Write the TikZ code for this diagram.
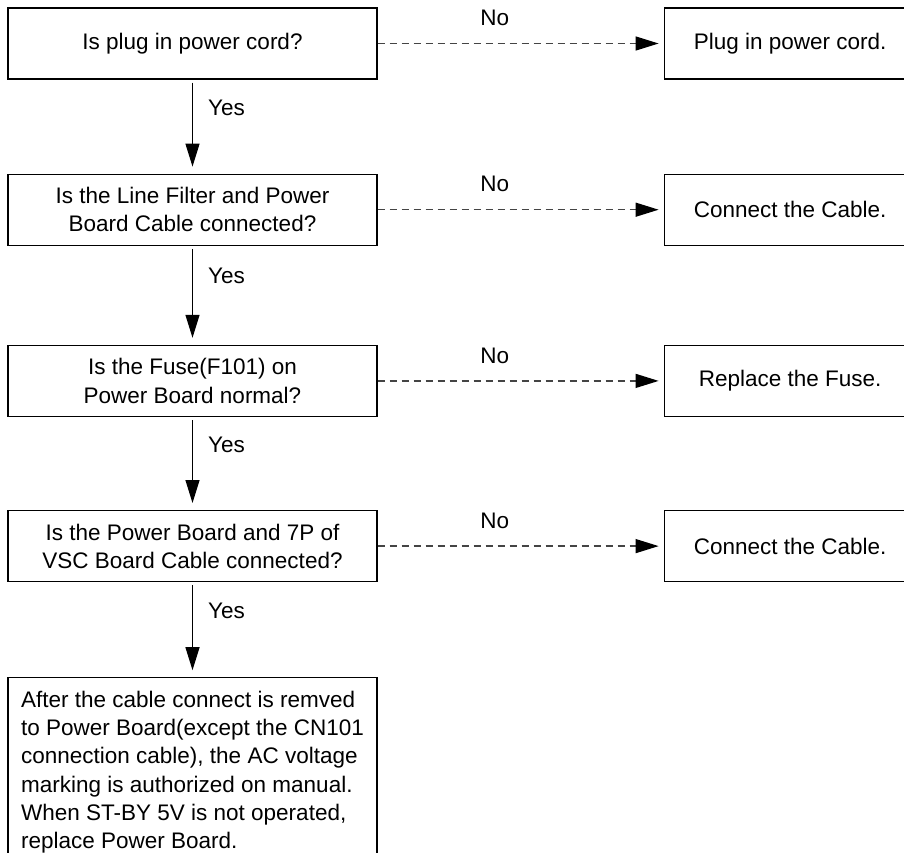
\documentclass[tikz,border=0pt]{standalone}
\usepackage{fontspec}
\setmainfont{Liberation Sans}
\usepackage{tikz}
\usetikzlibrary{arrows.meta,positioning}
\definecolor{dashgray}{HTML}{444444}

\begin{document}
\begin{tikzpicture}[
    x=1pt, y=1pt,
    node distance=94pt,
    >={Triangle[length=23pt,width=14pt]},
    font=\fontsize{22.5}{28.3}\selectfont,
    check/.style={
		rectangle,
		draw=black,
		line width=1.2pt,
		align=center,
		minimum width=369pt,
		minimum height=71pt,
		inner sep=0pt,
		fill=white
	},
	repair/.style={
		check,
		minimum width=252pt
	},
	answer/.style={
		inner sep=0pt
	},
	yesline/.style={->, line width=1.2pt, shorten <=3pt, shorten >=7pt},
	noline/.style={-{Triangle[length=23pt,width=14pt,color=black]}, draw=dashgray, line width=1.3pt, dash pattern=on 7pt off 5pt, shorten >=5pt}
  ]
  \useasboundingbox (0,0) rectangle (904,-852);

  % the questions on the left
  \node [check] (check1) at (192.5,-43.5) {Is plug in power cord?};
  \node [check, below=94pt of check1] (check2) {Is the Line Filter and Power\\Board Cable connected?};
  \node [check, below=99pt of check2] (check3) {Is the Fuse(F101) on\\Power Board normal?};
  \node [check, below=93pt of check3] (check4) {Is the Power Board and 7P of\\VSC Board Cable connected?};
  \node [check, below=95pt of check4, align=left, inner ysep=13pt] (check5)
 {%
  After the cable connect is remved\\
  to Power Board(except the CN101\\
  connection cable), the AC voltage\\
  marking is authorized on manual.\\
  When ST-BY 5V is not operated,\\
  replace Power Board.
 };

  % what to do on No
  \node [repair, right=286pt of check1] (repair1) {Plug in power cord.};
  \node [repair, right=286pt of check2] (repair2) {Connect the Cable.};
  \node [repair, right=286pt of check3] (repair3) {Replace the Fuse.};
  \node [repair, right=286pt of check4] (repair4) {Connect the Cable.};

  \draw [yesline] (check1) -- node [answer, right=15pt, pos=0.3] {Yes} (check2);
  \draw [yesline] (check2) -- node [answer, right=15pt, pos=0.3] {Yes} (check3);
  \draw [yesline] (check3) -- node [answer, right=15pt, pos=0.3] {Yes} (check4);
  \draw [yesline] (check4) -- node [answer, right=15pt, pos=0.3] {Yes} (check5);

  \draw [noline] (check1) -- node [answer, above=17pt, pos=0.41] {No} (repair1);
  \draw [noline] (check2) -- node [answer, above=17pt, pos=0.41] {No} (repair2);
  \draw [noline] (check3) -- node [answer, above=17pt, pos=0.41] {No} (repair3);
  \draw [noline] (check4) -- node [answer, above=17pt, pos=0.41] {No} (repair4);

\end{tikzpicture}
\end{document}
